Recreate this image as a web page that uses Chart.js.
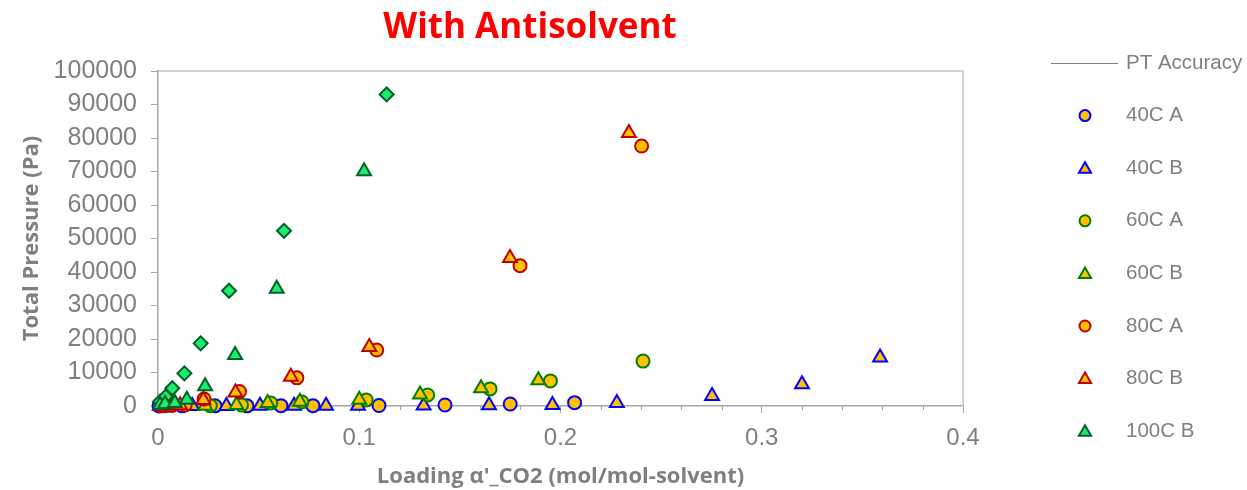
<!DOCTYPE html>
<html>
<head>
<meta charset="utf-8">
<title>With Antisolvent</title>
<script src="https://cdn.jsdelivr.net/npm/chart.js@4.4.1/dist/chart.umd.min.js"></script>
<style>
  html, body { margin: 0; padding: 0; background: #fff; }
  #wrap { width: 1247px; height: 490px; position: relative; }
</style>
</head>
<body>
<div id="wrap"><canvas id="theChart"></canvas></div>
<script>

// loading alpha'_CO2 (mol/mol-solvent) vs total pressure (Pa), one pair of arrays per run

var load40A = [0.0005, 0.012, 0.0283, 0.0442, 0.0611, 0.077, 0.1098, 0.1426, 0.175, 0.207];
var pres40A = [0, 50, 50, 50, 100, 100, 150, 300, 600, 1000];

var load40B = [0.002, 0.017, 0.034, 0.0507, 0.0676, 0.0835, 0.0994, 0.132, 0.1645, 0.196, 0.228, 0.2753, 0.32, 0.3588];
var pres40B = [0, 0, 0, 50, 50, 100, 100, 150, 200, 300, 900, 3000, 6500, 14500];

var load60A = [0.004, 0.026, 0.0415, 0.056, 0.0715, 0.1035, 0.134, 0.165, 0.195, 0.241];
var pres60A = [50, 100, 300, 900, 1200, 1800, 3300, 5100, 7500, 13400];

var load60B = [0.003, 0.0235, 0.039, 0.0545, 0.0705, 0.1, 0.1302, 0.1605, 0.189];
var pres60B = [50, 100, 300, 900, 1300, 1900, 3400, 5300, 7700];

var load80A = [0.002, 0.007, 0.0135, 0.0229, 0.0405, 0.069, 0.1087, 0.1799, 0.2403];
var pres80A = [50, 150, 300, 2100, 4300, 8400, 16700, 41900, 77600];

var load80B = [0.001, 0.005, 0.011, 0.0225, 0.0385, 0.066, 0.105, 0.1749, 0.234];
var pres80B = [50, 100, 250, 1800, 4000, 8700, 17600, 44200, 81500];

var load100A = [0.001, 0.0038, 0.0071, 0.0131, 0.0212, 0.0353, 0.0626, 0.1136];
var pres100A = [1300, 2800, 5300, 9750, 18700, 34400, 52300, 93000];

var load100B = [0.001, 0.0035, 0.0084, 0.0143, 0.0234, 0.0383, 0.059, 0.1024];
var pres100B = [300, 600, 900, 1900, 5900, 15200, 35000, 70100];

// no PT accuracy points plotted, it only shows in the legend
var loadPT = [];
var presPT = [];

var xTicks = [0, 0.1, 0.2, 0.3, 0.4];
var yMax = 100000;
var yStep = 10000;

var yellow = "#FFC000";
var runGreen = "#1CEB6C";

function pairs(xs, ys) {
    var out = [];
    for (var i = 0; i < xs.length; i++) {
        out.push({x: xs[i], y: ys[i]});
    }
    return out;
}

var series = [
    {label: "PT Accuracy", data: pairs(loadPT, presPT), line: true, color: "#7f7f7f"},
    {label: "40C A", data: pairs(load40A, pres40A), shape: "circle", fill: yellow, edge: "#0000FF"},
    {label: "40C B", data: pairs(load40B, pres40B), shape: "triangle", fill: yellow, edge: "#0000FF"},
    {label: "60C A", data: pairs(load60A, pres60A), shape: "circle", fill: yellow, edge: "#008000"},
    {label: "60C B", data: pairs(load60B, pres60B), shape: "triangle", fill: yellow, edge: "#008000"},
    {label: "80C A", data: pairs(load80A, pres80A), shape: "circle", fill: yellow, edge: "#C00000"},
    {label: "80C B", data: pairs(load80B, pres80B), shape: "triangle", fill: yellow, edge: "#C00000"},
    {label: "100C A", data: pairs(load100A, pres100A), shape: "rectRot", fill: runGreen, edge: "#00602A", noLegend: true},
    {label: "100C B", data: pairs(load100B, pres100B), shape: "triangle", fill: runGreen, edge: "#00602A"}
];

var sizes = {circle: 6.5, triangle: 8, rectRot: 7};

var datasets = series.map(function(s, i) {
    return {
        label: s.label,
        data: s.data,
        showLine: !!s.line,
        borderColor: s.line ? s.color : s.edge,
        backgroundColor: s.line ? s.color : s.fill,
        borderWidth: s.line ? 1 : 2,
        pointStyle: s.shape || "line",
        pointRadius: s.line ? 0 : sizes[s.shape],
        pointBorderWidth: 2,
        pointBorderColor: s.edge,
        pointBackgroundColor: s.fill,
        clip: false,
        // later runs sit on top
        order: series.length - i
    };
});

var grey = "#7f7f7f";
var axisGrey = "#a6a6a6";

function marker(ctx, shape, x, y, r) {
    ctx.beginPath();
    if (shape == "circle") {
        ctx.arc(x, y, r, 0, Math.PI * 2);
    } else if (shape == "triangle") {
        ctx.moveTo(x, y - r);
        ctx.lineTo(x + r * 0.866, y + r / 2);
        ctx.lineTo(x - r * 0.866, y + r / 2);
    } else {
        ctx.moveTo(x - r, y);
        ctx.lineTo(x, y - r);
        ctx.lineTo(x + r, y);
        ctx.lineTo(x, y + r);
    }
    ctx.closePath();
    ctx.fill();
    ctx.stroke();
}

var frameAndTitle = {
    id: "frameAndTitle",
    beforeDatasetsDraw: function(chart) {
        var a = chart.chartArea;
        var ctx = chart.ctx;
        ctx.save();
        ctx.strokeStyle = "#c4c4c4";
        ctx.lineWidth = 1.5;
        ctx.beginPath();
        ctx.moveTo(a.left, a.top);
        ctx.lineTo(a.right, a.top);
        ctx.lineTo(a.right, a.bottom);
        ctx.stroke();

        // minor ticks every 0.02 under the x axis
        var xs = chart.scales.x;
        ctx.strokeStyle = axisGrey;
        ctx.lineWidth = 1;
        for (var k = 1; k < 20; k++) {
            if (k % 5 == 0) continue;
            var px = Math.round(xs.getPixelForValue(k * 0.02)) + 0.5;
            ctx.beginPath();
            ctx.moveTo(px, a.bottom);
            ctx.lineTo(px, a.bottom + 4);
            ctx.stroke();
        }
        ctx.restore();
    },
    afterDraw: function(chart) {
        var ctx = chart.ctx;
        var a = chart.chartArea;
        ctx.save();
        ctx.fillStyle = "#FF0000";
        ctx.font = "bold 35px 'Open Sans'";
        ctx.textAlign = "center";
        ctx.textBaseline = "middle";
        ctx.fillText("With Antisolvent", a.left + 372, 28);

        // legend down the right hand side
        var lx = a.right + 88;
        var ly = 63;
        var gap = 52.6;
        ctx.font = "20.5px 'Liberation Sans'";
        ctx.textAlign = "left";
        ctx.textBaseline = "middle";
        chart.data.datasets.forEach(function(ds, i) {
            var s = series[i];
            if (s.noLegend) return;
            if (s.line) {
                ctx.strokeStyle = s.color;
                ctx.lineWidth = 1;
                ctx.beginPath();
                ctx.moveTo(lx, ly + 0.5);
                ctx.lineTo(lx + 67, ly + 0.5);
                ctx.stroke();
            } else {
                ctx.fillStyle = s.fill;
                ctx.strokeStyle = s.edge;
                ctx.lineWidth = 2;
                marker(ctx, s.shape, lx + 34, s.shape == "triangle" ? ly + 1 : ly, s.shape == "circle" ? 5.5 : 7);
            }
            ctx.fillStyle = grey;
            ctx.fillText(s.label, lx + 75, ly);
            ly += gap;
        });
        ctx.restore();
    }
};

var ctx = document.getElementById("theChart").getContext("2d");

var theChart = new Chart(ctx, {
    type: "scatter",
    data: {datasets: datasets},
    plugins: [frameAndTitle],
    options: {
        responsive: true,
        maintainAspectRatio: false,
        animation: false,
        devicePixelRatio: 1,
        layout: {padding: {top: 71, right: 284, left: 0, bottom: 0}},
        plugins: {
            legend: {display: false},
            tooltip: {enabled: false},
            title: {display: false}
        },
        scales: {
            x: {
                type: "linear",
                min: 0,
                max: 0.4,
                afterBuildTicks: function(axis) {
                    axis.ticks = xTicks.map(function(v) { return {value: v}; });
                },
                afterFit: function(axis) { axis.height = 84; },
                ticks: {
                    color: grey,
                    font: {family: "'Liberation Sans'", size: 24},
                    padding: 11,
                    callback: function(v) { return String(v); }
                },
                grid: {display: true, drawOnChartArea: false, tickLength: 7, color: axisGrey},
                border: {display: true, color: axisGrey, width: 1.5},
                title: {
                    display: true,
                    text: "Loading \u03b1'_CO2 (mol/mol-solvent)",
                    color: grey,
                    font: {family: "'Open Sans'", size: 22, weight: "bold"},
                    padding: {top: 0, bottom: 0}
                }
            },
            y: {
                type: "linear",
                min: 0,
                max: yMax,
                afterFit: function(axis) { axis.width = 158; },
                ticks: {
                    stepSize: yStep,
                    color: grey,
                    font: {family: "'Liberation Sans'", size: 25},
                    padding: 14,
                    callback: function(v) { return String(v); }
                },
                grid: {display: true, drawOnChartArea: false, tickLength: 7, color: axisGrey},
                border: {display: true, color: axisGrey, width: 1.5},
                title: {
                    display: true,
                    text: "Total Pressure (Pa)",
                    color: grey,
                    font: {family: "'Open Sans'", size: 22, weight: "bold"},
                    padding: {top: 19, bottom: 0}
                }
            }
        }
    }
});

</script>
</body>
</html>
